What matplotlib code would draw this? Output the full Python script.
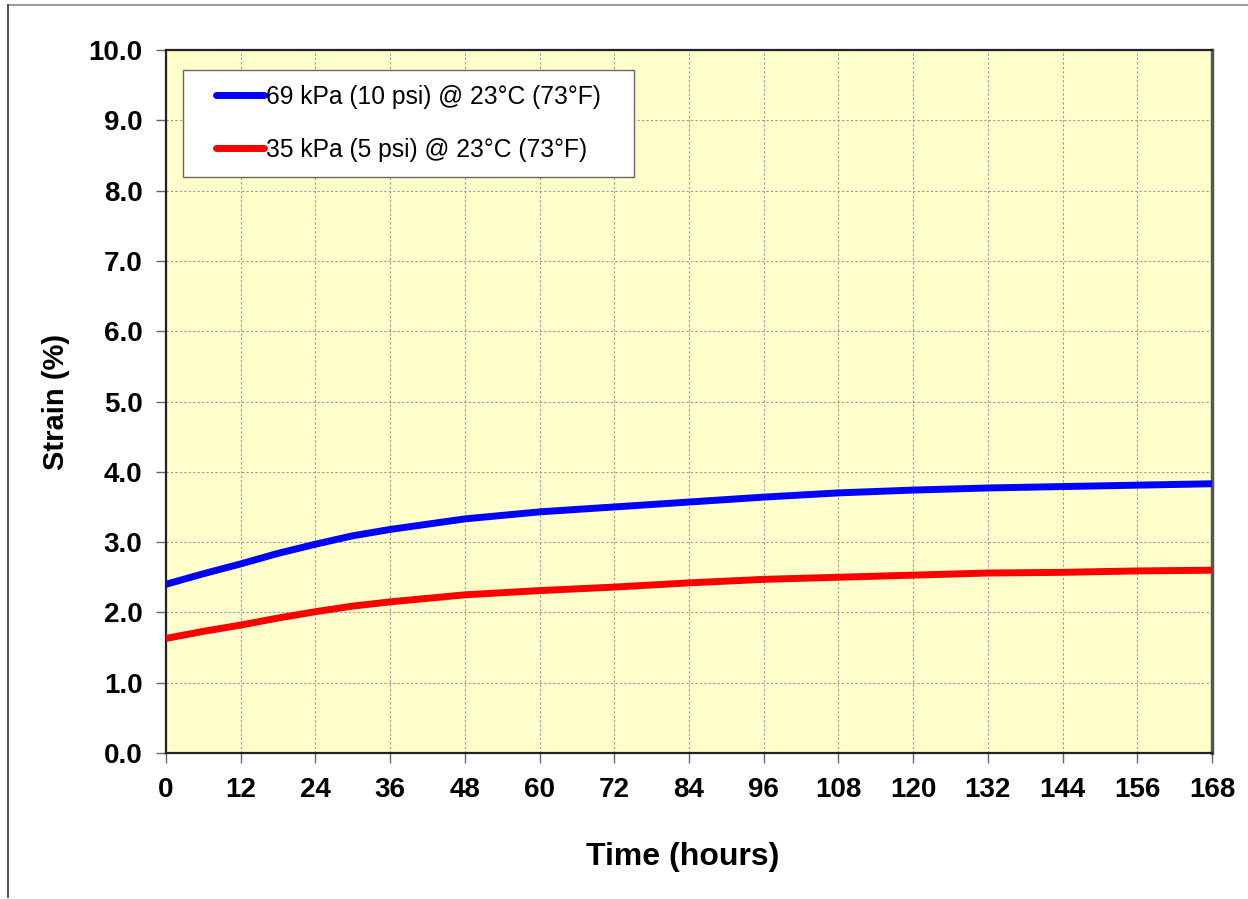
import matplotlib.pyplot as plt
from matplotlib.lines import Line2D
from matplotlib.patches import Rectangle
from matplotlib.ticker import FormatStrFormatter

hours = [0, 6, 12, 18, 24, 30, 36, 48, 60, 72, 84, 96, 108, 120, 132, 144, 156, 168]
strain_10psi = [2.40, 2.55, 2.69, 2.84, 2.97, 3.09, 3.18, 3.33, 3.43, 3.50, 3.57, 3.64, 3.70, 3.74, 3.77, 3.79, 3.81, 3.83]
strain_5psi = [1.63, 1.73, 1.82, 1.92, 2.01, 2.09, 2.15, 2.25, 2.31, 2.36, 2.42, 2.47, 2.50, 2.53, 2.56, 2.57, 2.59, 2.60]

label_10psi = "69 kPa (10 psi) @ 23°C (73°F)"
label_5psi = "35 kPa (5 psi) @ 23°C (73°F)"
x_ticks = list(range(0, 169, 12))
y_ticks = [i * 1.0 for i in range(11)]

plt.rcParams['font.family'] = ['Liberation Sans', 'DejaVu Sans']

fig = plt.figure(figsize=(12.48, 8.99), dpi=100)
ax = fig.add_axes([166 / 1248, 146 / 899, 1046 / 1248, 703 / 899])
ax.set_facecolor('#FFFFCC')

ax.plot(hours, strain_10psi, color='#0000FF', lw=5, solid_capstyle='butt', label=label_10psi, zorder=3)
ax.plot(hours, strain_5psi, color='#FF0000', lw=5, solid_capstyle='butt', label=label_5psi, zorder=3)

ax.set_xlim(0, 168)
ax.set_ylim(0, 10)
ax.set_xticks(x_ticks)
ax.set_yticks(y_ticks)
ax.yaxis.set_major_formatter(FormatStrFormatter('%.1f'))
ax.grid(True, color='#999999', lw=0.8, linestyle=(0, (2, 2)))
ax.set_axisbelow(True)

ax.tick_params(direction='out', length=7, width=1, color='#666666', labelsize=20, pad=10)
for lab in ax.get_xticklabels() + ax.get_yticklabels():
	lab.set_fontweight('bold')

for side in ['left', 'bottom', 'top']:
	ax.spines[side].set_color('#222222')
	ax.spines[side].set_linewidth(1.6)
ax.spines['right'].set_color('#555555')
ax.spines['right'].set_linewidth(2.5)

ax.set_xlabel('Time (hours)', fontsize=23, fontweight='bold', labelpad=28)
ax.xaxis.label.set_x(0.494)
ax.set_ylabel('Strain (%)', fontsize=21, fontweight='bold', labelpad=13)

# legend frame drawn separately so the padding can differ across / down
ax.add_patch(Rectangle((17 / 1046, (753 - 177) / 703), 451 / 1046, 107 / 703,
					   transform=ax.transAxes, facecolor='white', edgecolor='#666666',
					   lw=1.0, zorder=4))
leg = ax.legend(loc='upper left', bbox_to_anchor=(50 / 1046, (753 - 85) / 703),
				fontsize=17.7, frameon=False, handlelength=1.95, handletextpad=0.1,
				borderpad=0, labelspacing=1.17, borderaxespad=0)
leg.set_zorder(5)
for h in leg.get_lines():
	h.set_linewidth(5)
	h.set_solid_capstyle('round')

# outer frame lines (top and left) like the source image
fig.add_artist(Line2D([8 / 1248, 1247 / 1248], [1 - 5 / 899, 1 - 5 / 899], color='#888888', lw=1.2))
fig.add_artist(Line2D([8 / 1248, 8 / 1248], [1 - 5 / 899, 1 - 897 / 899], color='#333333', lw=1.2))

fig.savefig('out.png', dpi=100)
